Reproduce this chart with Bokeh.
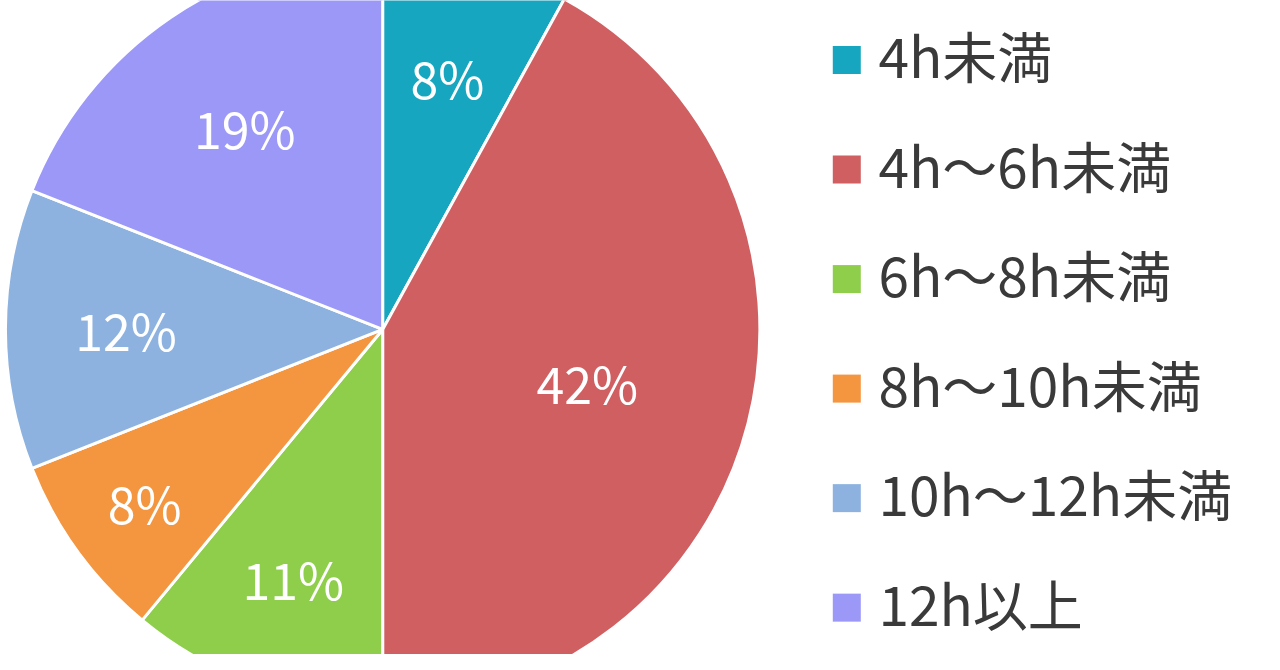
import math
from bokeh.plotting import figure
from bokeh.models import Range1d, ColumnDataSource
from bokeh.core.properties import value
from bokeh.embed import file_html
from bokeh.resources import INLINE

# ---- data ----
categories = ["4h未満", "4h～6h未満", "6h～8h未満", "8h～10h未満", "10h～12h未満", "12h以上"]
percents = [8, 42, 11, 8, 12, 19]
colors = ["#17A6BF", "#D05F62", "#8FCE4B", "#F4953F", "#8DB2DF", "#9B98F8"]

# ---- layout / style ----
W, H = 1264, 654
SX, SY = W / 1280, H / 670     # reference-pixel -> canvas-pixel scale
CX, CY = 387 * SX, H - 337 * SY
R = 382 * SX
label_r = [0.69, 0.56, 0.70, 0.78, 0.68, 0.65]   # Excel "best fit" label distances
FONT = "Noto Sans CJK JP"

total = sum(percents)
starts, ends, lx, ly, texts = [], [], [], [], []
acc = 0.0
for i, v in enumerate(percents):
    a0 = math.pi / 2 - 2 * math.pi * acc / total
    acc += v
    a1 = math.pi / 2 - 2 * math.pi * acc / total
    starts.append(a0)
    ends.append(a1)
    mid = (a0 + a1) / 2
    lx.append(CX + R * label_r[i] * math.cos(mid))
    ly.append(CY + R * label_r[i] * math.sin(mid))
    texts.append(f"{v}%")

src = ColumnDataSource(dict(start=starts, end=ends, color=colors,
                            lx=lx, ly=ly, text=texts, cat=categories))

p = figure(width=W, height=H, output_backend="svg", toolbar_location=None,
           x_range=Range1d(0, W), y_range=Range1d(0, H), min_border=0)
p.axis.visible = False
p.grid.visible = False
p.outline_line_color = None
p.background_fill_color = "white"

p.wedge(x=CX, y=CY, radius=R, start_angle="start", end_angle="end",
        direction="clock", fill_color="color", line_color="white",
        line_width=3, source=src)

p.text(x="lx", y="ly", text="text", source=src, text_color="white",
       text_font=value(FONT), text_font_size="50px",
       text_align="center", text_baseline="middle")

# legend drawn manually
LX_SQ, LX_TX = 857 * SX, 889 * SX
LY0, LDY = 61, 112.2
leg_y = [H - (LY0 + LDY * i) * SY for i in range(len(categories))]
leg_ty = [y + 6 for y in leg_y]
lsrc = ColumnDataSource(dict(y=leg_y, ty=leg_ty, color=colors, cat=categories))
p.scatter(x=LX_SQ, y="y", marker="square", size=28, fill_color="color",
          line_color=None, source=lsrc)
p.text(x=LX_TX, y="ty", text="cat", source=lsrc, text_color="#3A3A3A",
       text_font=value(FONT), text_font_size="55px",
       text_align="left", text_baseline="middle")

open("out.html", "w").write(file_html(p, INLINE))
